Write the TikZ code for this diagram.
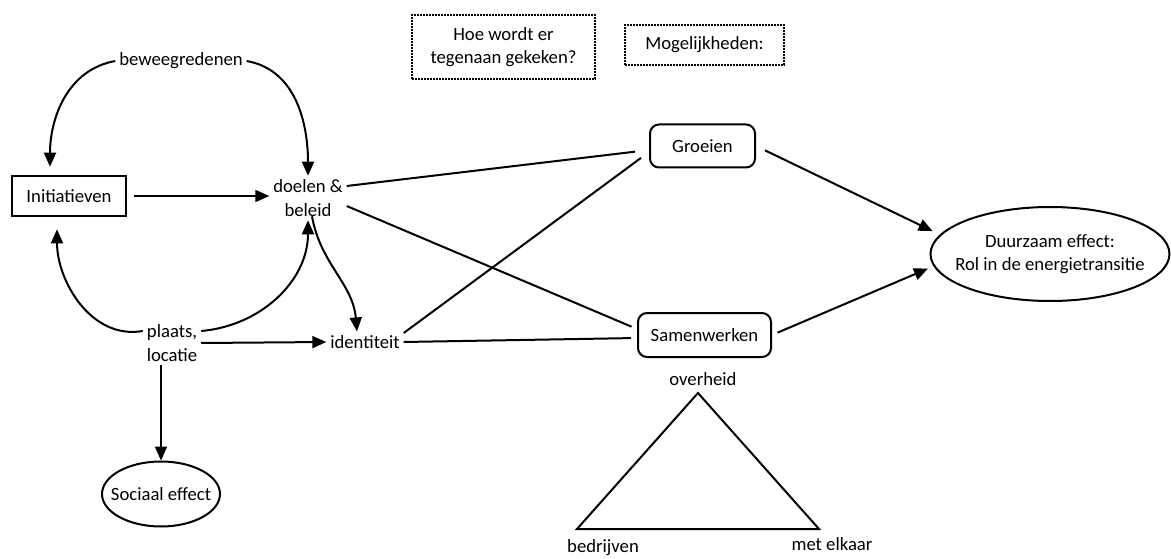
\documentclass[tikz,border=0pt]{standalone}
\usepackage{fontspec}
\setmainfont{Carlito}
\usetikzlibrary{arrows.meta}
\usetikzlibrary{shapes.geometric}

\begin{document}
\begin{tikzpicture}[x=1pt,y=-1pt,line width=2pt,
		font=\fontsize{18.7}{23.5}\selectfont,
		arr/.style={-{Triangle[length=14pt,width=12pt]}},
		txt/.style={inner sep=3pt,align=center},
		plainbox/.style={draw,line width=2.6pt,minimum width=114pt,minimum height=40pt},
		roundbox/.style={draw,rounded corners=9pt,minimum height=43pt},
		effect/.style={draw,ellipse,inner xsep=-12pt,align=center},
		question/.style={draw,densely dotted,align=center}]
			\useasboundingbox (0,0) rectangle (1171,559);
			% nodes
			\node[txt] (beweeg) at (181,61) {beweegredenen};
			\node[plainbox] (init) at (69,196) {Initiatieven};
			\node[txt] (doelen) at (308,198) {doelen \&\\beleid};
			\node[txt] (plaats) at (172,343) {plaats,\\locatie};
			\node[txt] (ident) at (365,342) {identiteit};
			\node[effect,minimum width=118pt,minimum height=65pt] (sociaal) at (161,494) {Sociaal effect};
			\node[question,minimum width=183pt,minimum height=64pt] (hoe) at (503.5,47) {Hoe wordt er\\tegenaan gekeken?};
			\node[question,minimum width=159pt,minimum height=40pt] (mogelijk) at (704.5,45) {Mogelijkheden:};
			\node[roundbox,minimum width=105pt] (groei) at (702.5,146) {Groeien};
			\node[roundbox,minimum width=133pt,minimum height=44pt] (samen) at (704.5,335) {Samenwerken};
			\node[effect,minimum width=239pt,minimum height=94pt] (duurzaam) at (1050,254) {Duurzaam effect:\\Rol in de energietransitie};
			% arrows round doelen
			\draw[arr] (beweeg.west) to[out=190,in=90] ([xshift=-19pt,yshift=8pt]init.north);
			\draw[arr] (beweeg.east) to[out=-10,in=90] (doelen.north);
			\draw[arr,shorten <=7pt] (init.east) -- (doelen.west |- init.east);
			\draw[arr] ([yshift=12pt]plaats.west) to[out=190,in=-90] ([xshift=-12pt,yshift=-12pt]init.south);
			\draw[arr] ([yshift=12pt]plaats.east) to[out=5,in=-90] (doelen.south);
			\draw[arr] ([xshift=4pt,yshift=4pt]doelen.south) to[out=-80,in=95] ([xshift=-8pt]ident.north);
			\draw[arr] (plaats.east) -- (ident.west);
			\draw[arr] (plaats.south -| sociaal.north) -- (sociaal.north);
			% lines to groeien and samenwerken
			\draw[shorten >=14pt] ([yshift=12pt]doelen.east) -- ([yshift=-4pt]groei.west);
			\draw[shorten >=6pt] ([yshift=-8pt]doelen.east) -- ([yshift=6pt]samen.west);
			\draw[shorten >=10pt] ([yshift=9pt]ident.east) -- ([yshift=-6pt]groei.west);
			\draw[shorten >=6pt] (ident.east) -- ([yshift=-3pt]samen.west);
			\draw[arr,shorten <=10pt,shorten >=8pt] (groei.east) -- (duurzaam.170);
			\draw[arr,shorten <=6pt,shorten >=6pt] (samen.east) -- (duurzaam.186);
			% triangle
			\draw (698,393) -- (577,529) -- (819,529) -- cycle;
			\node[txt] (overheid) at (703,379) {overheid};
			\node[txt] (bedrijf) at (603,548) {bedrijven};
			\node[txt] (elkaar) at (832,544) {met elkaar};
		\end{tikzpicture}
\end{document}
